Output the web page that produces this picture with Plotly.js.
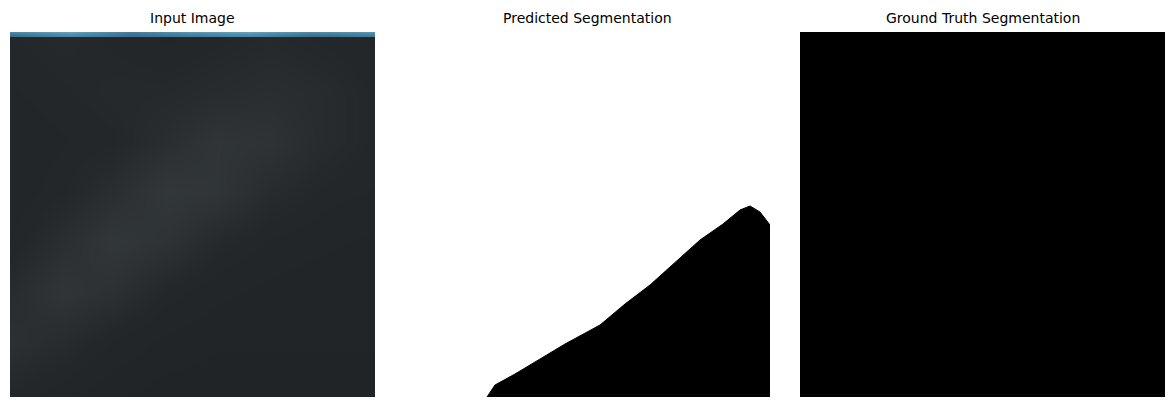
<!DOCTYPE html>
<html>
<head>
<meta charset="utf-8">
<script src="https://cdn.plot.ly/plotly-3.0.1.min.js"></script>
<style>body{margin:0;background:#fff}#chart{width:1174px;height:407px}</style>
</head>
<body>
<div id="chart"></div>
<script>
// panel titles
const titles = ['Input Image', 'Predicted Segmentation', 'Ground Truth Segmentation'];

// input image: coarse brightness grid (0 = darkest), rows top to bottom
const gridX = [0, 52, 104, 156, 208, 260, 312, 365];
const gridY = [10, 60, 110, 160, 210, 260, 310, 365];
const brightness = [
  [0.30, 0.32, 0.30, 0.28, 0.30, 0.32, 0.30, 0.28],
  [0.28, 0.30, 0.32, 0.32, 0.34, 0.36, 0.34, 0.30],
  [0.26, 0.28, 0.30, 0.36, 0.42, 0.40, 0.34, 0.30],
  [0.26, 0.30, 0.36, 0.44, 0.42, 0.34, 0.30, 0.28],
  [0.28, 0.36, 0.44, 0.40, 0.32, 0.28, 0.26, 0.24],
  [0.34, 0.42, 0.38, 0.30, 0.26, 0.24, 0.22, 0.22],
  [0.38, 0.34, 0.28, 0.24, 0.22, 0.22, 0.22, 0.22],
  [0.30, 0.26, 0.22, 0.20, 0.20, 0.20, 0.20, 0.20]
];
// thin water strip along the top edge
const stripX = [0, 60, 120, 180, 240, 300, 365];
const stripY = [0, 3];
const stripZ = [[0.9, 1, 0.85, 0.95, 1, 0.9, 0.95], [0.8, 0.9, 0.8, 0.85, 0.9, 0.8, 0.85]];

// predicted mask: outline of the black region (pixel units, y downwards)
const maskX = [82, 90, 110, 125, 160, 195, 220, 245, 270, 295, 318, 335, 345, 355, 365, 365, 82];
const maskY = [365, 353, 342, 333, 312, 293, 272, 253, 230, 208, 192, 178, 174, 180, 193, 365, 365];

// ground truth: a single all-black cell covering the panel
const truthZ = [[0, 0], [0, 0]];
const truthXY = [0, 365];

const imgScale = [[0, '#1b1e20'], [0.3, '#23272a'], [0.45, '#33383a'], [0.8, '#3e6f8a'], [1, '#5ea0c0']];

const data = [
  {type: 'heatmap', x: gridX, y: gridY, z: brightness, zmin: 0, zmax: 1, zsmooth: 'best',
   colorscale: imgScale, showscale: false, hoverinfo: 'skip', xaxis: 'x', yaxis: 'y'},
  {type: 'heatmap', x: stripX, y: stripY, z: stripZ, zmin: 0, zmax: 1, zsmooth: 'best',
   colorscale: imgScale, showscale: false, hoverinfo: 'skip', xaxis: 'x', yaxis: 'y'},
  {type: 'scatter', x: maskX, y: maskY, mode: 'lines', fill: 'toself', fillcolor: '#000',
   line: {color: '#000', width: 1}, hoverinfo: 'skip', xaxis: 'x2', yaxis: 'y2'},
  {type: 'heatmap', x: truthXY, y: truthXY, z: truthZ, zmin: 0, zmax: 1,
   colorscale: [[0, '#000'], [1, '#000']], showscale: false, hoverinfo: 'skip', xaxis: 'x3', yaxis: 'y3'}
];

const doms = [[10 / 1174, 375 / 1174], [405 / 1174, 770 / 1174], [800 / 1174, 1165 / 1174]];
const yDom = [1 - 397 / 407, 1 - 32 / 407];
const layout = {
  width: 1174, height: 407, margin: {l: 0, r: 0, t: 0, b: 0},
  paper_bgcolor: '#fff', plot_bgcolor: '#fff', showlegend: false,
  font: {family: 'DejaVu Sans', size: 12, color: '#000'},
  annotations: titles.map((t, i) => ({
    text: t, xref: 'paper', yref: 'paper', x: (doms[i][0] + doms[i][1]) / 2,
    y: 1 - 18 / 407, showarrow: false, font: {size: 14}, xanchor: 'center', yanchor: 'middle'
  }))
};
['', '2', '3'].forEach((s, i) => {
  layout['xaxis' + s] = {domain: doms[i], range: [0, 365], visible: false, fixedrange: true};
  layout['yaxis' + s] = {domain: yDom, range: [365, 0], visible: false, fixedrange: true, anchor: 'x' + s};
});
layout.xaxis2.anchor = 'y2';
layout.xaxis3.anchor = 'y3';

Plotly.newPlot('chart', data, layout, {displayModeBar: false, staticPlot: true});
</script>
</body>
</html>
